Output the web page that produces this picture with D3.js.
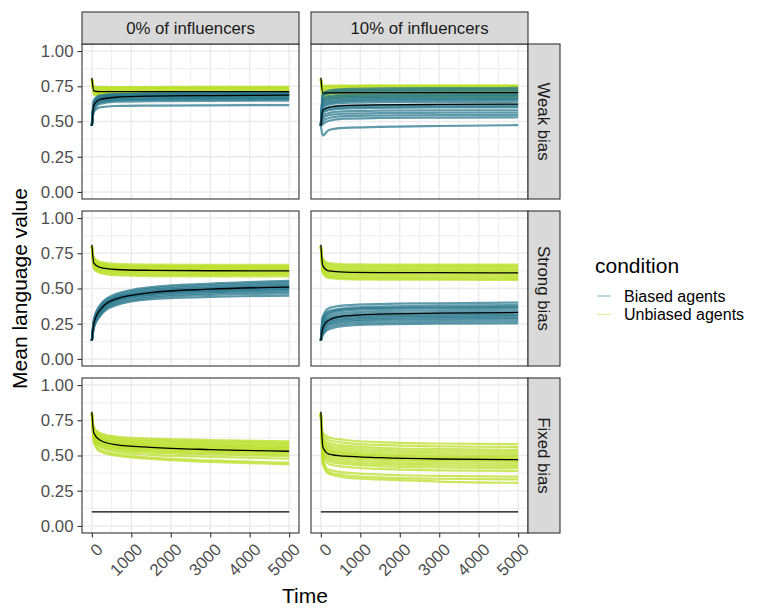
<!DOCTYPE html>
<html>
<head>
<meta charset="utf-8">
<script src="https://cdn.jsdelivr.net/npm/d3@7"></script>
<style>
  body { margin: 0; background: #fff; }
  text { font-family: "Liberation Sans", Arial, Helvetica, sans-serif; }
</style>
</head>
<body>
<script>
const timePoints = [0, 50, 200, 600, 1500, 3000, 5000];

const columnLabels = ["0% of influencers", "10% of influencers"];
const rowLabels = ["Weak bias", "Strong bias", "Fixed bias"];
const conditionLabels = ["Biased agents", "Unbiased agents"];

const xTicks = [0, 1000, 2000, 3000, 4000, 5000];
const xMinorTicks = [500, 1500, 2500, 3500, 4500];
const yTicks = [0, 0.25, 0.5, 0.75, 1];
const yMinorTicks = [0.125, 0.375, 0.625, 0.875];

// ---- Weak bias, 0% influencers
const weakNoneUnbiased = [
  [.80, .750, .745, .745, .745, .746, .746],
  [.80, .740, .736, .735, .736, .736, .737],
  [.80, .732, .728, .727, .728, .729, .729],
  [.80, .725, .721, .720, .720, .721, .721],
  [.80, .720, .715, .714, .714, .714, .715],
  [.80, .714, .708, .707, .707, .707, .707],
  [.80, .708, .701, .700, .700, .700, .701],
  [.80, .702, .695, .694, .694, .693, .693],
  [.80, .698, .689, .687, .687, .687, .687],
  [.80, .690, .682, .680, .680, .681, .680],
  [.80, .745, .741, .740, .740, .741, .741],
  [.80, .712, .703, .704, .704, .705, .704]
];
const weakNoneBiased = [
  [.47, .620, .660, .675, .680, .682, .683],
  [.47, .630, .670, .685, .690, .692, .693],
  [.47, .640, .680, .692, .697, .699, .700],
  [.47, .600, .645, .660, .665, .667, .668],
  [.47, .590, .635, .650, .655, .657, .658],
  [.47, .610, .655, .668, .673, .675, .676],
  [.47, .580, .625, .640, .645, .647, .648],
  [.47, .620, .662, .678, .684, .686, .688],
  [.47, .650, .685, .695, .700, .703, .705],
  [.47, .570, .600, .610, .613, .615, .616],
  [.47, .600, .640, .655, .660, .662, .663],
  [.47, .630, .672, .688, .692, .694, .695]
];
const weakNoneUnbiasedMean = [.81, .718, .712, .712, .712, .712, .712];
const weakNoneBiasedMean = [.47, .615, .655, .672, .680, .684, .687];

// ---- Weak bias, 10% influencers
const weakTenUnbiased = [
  [.80, .750, .755, .755, .756, .756, .757],
  [.80, .740, .745, .747, .748, .748, .748],
  [.80, .730, .735, .737, .738, .738, .738],
  [.80, .720, .726, .728, .729, .729, .730],
  [.80, .710, .716, .718, .719, .720, .720],
  [.80, .700, .705, .708, .709, .710, .710],
  [.80, .690, .695, .698, .700, .700, .700],
  [.80, .680, .685, .688, .690, .690, .690],
  [.80, .670, .676, .679, .680, .680, .680],
  [.80, .660, .668, .670, .671, .672, .672],
  [.80, .752, .750, .751, .752, .752, .752],
  [.80, .715, .720, .722, .723, .723, .723]
];
const weakTenBiased = [
  [.47, .700, .720, .730, .735, .737, .738],
  [.47, .690, .710, .720, .725, .727, .728],
  [.47, .680, .700, .710, .715, .717, .718],
  [.47, .660, .680, .690, .695, .697, .698],
  [.47, .650, .670, .681, .686, .688, .689],
  [.47, .640, .660, .672, .677, .679, .680],
  [.47, .620, .640, .652, .657, .659, .660],
  [.47, .600, .620, .632, .637, .639, .640],
  [.47, .580, .600, .612, .617, .619, .620],
  [.47, .560, .580, .592, .597, .600, .600],
  [.47, .540, .560, .572, .577, .579, .580],
  [.47, .520, .545, .555, .560, .562, .563],
  [.47, .500, .525, .538, .542, .545, .546],
  [.47, .480, .505, .520, .525, .528, .530],
  [.47, .400, .440, .455, .462, .468, .474],
  [.47, .610, .630, .645, .650, .652, .653],
  [.47, .570, .590, .600, .605, .607, .608],
  [.47, .630, .650, .662, .667, .669, .670]
];
const weakTenUnbiasedMean = [.81, .702, .703, .704, .705, .705, .705];
const weakTenBiasedMean = [.47, .580, .600, .612, .618, .621, .623];

// ---- Strong bias, 0% influencers
const strongNoneUnbiased = [
  [.80, .720, .690, .675, .670, .668, .668],
  [.80, .710, .680, .665, .660, .658, .658],
  [.80, .700, .670, .655, .650, .648, .648],
  [.80, .690, .660, .645, .640, .638, .638],
  [.80, .680, .650, .635, .630, .628, .628],
  [.80, .675, .645, .628, .623, .621, .620],
  [.80, .665, .635, .620, .615, .612, .612],
  [.80, .660, .628, .612, .606, .604, .604],
  [.80, .650, .618, .602, .597, .595, .594],
  [.80, .640, .610, .594, .588, .586, .585],
  [.80, .700, .675, .660, .655, .653, .652],
  [.80, .685, .655, .640, .635, .633, .632]
];
const strongNoneBiased = [
  [.13, .280, .380, .460, .510, .535, .555],
  [.13, .270, .370, .450, .500, .525, .545],
  [.13, .265, .360, .440, .490, .515, .535],
  [.13, .260, .355, .435, .480, .505, .525],
  [.13, .255, .350, .430, .475, .500, .515],
  [.13, .250, .345, .425, .470, .495, .510],
  [.13, .245, .340, .420, .465, .488, .503],
  [.13, .240, .335, .415, .460, .482, .495],
  [.13, .235, .330, .410, .455, .475, .488],
  [.13, .230, .320, .400, .445, .465, .477],
  [.13, .225, .310, .390, .435, .455, .465],
  [.13, .220, .300, .380, .425, .440, .450]
];
const strongNoneUnbiasedMean = [.81, .680, .650, .635, .629, .626, .625];
const strongNoneBiasedMean = [.13, .250, .345, .425, .470, .495, .510];

// ---- Strong bias, 10% influencers
const strongTenUnbiased = [
  [.80, .710, .680, .672, .670, .670, .670],
  [.80, .700, .670, .662, .660, .660, .660],
  [.80, .690, .660, .652, .650, .650, .650],
  [.80, .680, .650, .642, .640, .640, .640],
  [.80, .670, .640, .632, .630, .630, .630],
  [.80, .665, .632, .624, .622, .621, .621],
  [.80, .655, .622, .614, .612, .611, .611],
  [.80, .645, .612, .604, .602, .601, .601],
  [.80, .635, .602, .594, .592, .591, .590],
  [.80, .625, .592, .584, .581, .580, .580],
  [.80, .615, .582, .574, .571, .570, .569],
  [.80, .605, .575, .566, .563, .562, .561]
];
const strongTenBiased = [
  [.13, .300, .360, .380, .390, .395, .400],
  [.13, .280, .340, .360, .372, .378, .382],
  [.13, .260, .320, .343, .355, .360, .365],
  [.13, .250, .305, .328, .340, .345, .350],
  [.13, .240, .290, .313, .325, .330, .335],
  [.13, .230, .280, .302, .313, .318, .322],
  [.13, .220, .270, .292, .303, .308, .312],
  [.13, .210, .260, .282, .293, .298, .302],
  [.13, .200, .250, .272, .283, .288, .292],
  [.13, .190, .240, .262, .272, .277, .281],
  [.13, .180, .225, .248, .258, .263, .267],
  [.13, .170, .210, .235, .245, .250, .252],
  [.13, .290, .330, .352, .362, .366, .370]
];
const strongTenUnbiasedMean = [.81, .660, .625, .616, .613, .612, .611];
const strongTenBiasedMean = [.13, .220, .275, .305, .318, .325, .330];

// ---- Fixed bias, 0% influencers (biased agents sit at 0.1, only the mean shows)
const fixedNoneUnbiased = [
  [.80, .700, .660, .635, .620, .610, .600],
  [.80, .690, .650, .625, .610, .600, .590],
  [.80, .680, .640, .615, .600, .590, .580],
  [.80, .675, .632, .605, .590, .580, .570],
  [.80, .670, .625, .597, .580, .570, .560],
  [.80, .665, .618, .590, .572, .562, .552],
  [.80, .660, .610, .582, .564, .554, .544],
  [.80, .655, .603, .574, .556, .545, .535],
  [.80, .650, .596, .566, .548, .537, .527],
  [.80, .645, .588, .558, .539, .528, .517],
  [.80, .640, .580, .550, .530, .518, .507],
  [.80, .630, .570, .540, .520, .507, .495],
  [.80, .620, .560, .528, .505, .490, .477],
  [.80, .600, .540, .510, .485, .465, .450],
  [.80, .590, .530, .500, .475, .455, .437]
];
const fixedNoneUnbiasedMean = [.81, .660, .610, .577, .558, .542, .530];
const fixedNoneBiasedMean = [.10, .100, .100, .100, .100, .100, .100];

// ---- Fixed bias, 10% influencers
const fixedTenUnbiased = [
  [.80, .660, .630, .610, .595, .585, .580],
  [.80, .640, .610, .590, .575, .565, .560],
  [.80, .620, .590, .570, .555, .545, .540],
  [.80, .610, .575, .555, .540, .530, .525],
  [.80, .600, .560, .540, .525, .515, .510],
  [.80, .590, .545, .525, .510, .500, .495],
  [.80, .580, .535, .515, .500, .490, .485],
  [.80, .570, .525, .505, .490, .480, .475],
  [.80, .560, .515, .495, .480, .470, .465],
  [.80, .550, .505, .485, .470, .460, .455],
  [.80, .540, .490, .470, .455, .445, .440],
  [.80, .530, .475, .455, .440, .430, .425],
  [.80, .520, .460, .440, .425, .415, .410],
  [.80, .500, .440, .420, .405, .395, .390],
  [.80, .470, .400, .380, .365, .355, .350],
  [.80, .450, .380, .360, .345, .335, .330],
  [.80, .440, .370, .345, .330, .315, .306]
];
const fixedTenUnbiasedMean = [.81, .560, .510, .495, .485, .475, .470];
const fixedTenBiasedMean = [.10, .100, .100, .100, .100, .100, .100];

const panels = [
  { row: 0, col: 0, biased: weakNoneBiased, unbiased: weakNoneUnbiased, biasedMean: weakNoneBiasedMean, unbiasedMean: weakNoneUnbiasedMean },
  { row: 0, col: 1, biased: weakTenBiased, unbiased: weakTenUnbiased, biasedMean: weakTenBiasedMean, unbiasedMean: weakTenUnbiasedMean },
  { row: 1, col: 0, biased: strongNoneBiased, unbiased: strongNoneUnbiased, biasedMean: strongNoneBiasedMean, unbiasedMean: strongNoneUnbiasedMean },
  { row: 1, col: 1, biased: strongTenBiased, unbiased: strongTenUnbiased, biasedMean: strongTenBiasedMean, unbiasedMean: strongTenUnbiasedMean },
  { row: 2, col: 0, biased: [], unbiased: fixedNoneUnbiased, biasedMean: fixedNoneBiasedMean, unbiasedMean: fixedNoneUnbiasedMean },
  { row: 2, col: 1, biased: [], unbiased: fixedTenUnbiased, biasedMean: fixedTenBiasedMean, unbiasedMean: fixedTenUnbiasedMean }
];

const width = 765,
    height = 616;

const marginLeft = 82, marginTop = 44,
    panelW = 217, panelH = 155,
    gap = 12, stripSize = 32;

const colors = { biased: "#2A788E", unbiased: "#BBDF27" };
const runOpacity = 0.75;
const runWidth = 2.2;
const keyOpacity = 0.45;
const fontSize = 16.8;

const svg = d3.select("body").append("svg")
    .attr("width", width)
    .attr("height", height);

const xScale = d3.scaleLinear().domain([-250, 5250]).range([0, panelW]);
const yScale = d3.scaleLinear().domain([-0.05, 1.05]).range([panelH, 0]);

const line = d3.line()
    .x((d, i) => xScale(timePoints[i]))
    .y(d => yScale(d))
    .curve(d3.curveMonotoneX);

panels.forEach(function (p) {
    const px = marginLeft + p.col * (panelW + gap),
        py = marginTop + p.row * (panelH + gap);

    const g = svg.append("g")
        .attr("transform", `translate(${px},${py})`);

    g.append("rect")
        .attr("width", panelW)
        .attr("height", panelH)
        .attr("fill", "#fff");

    // minor grid first, then major
    g.selectAll("line.minor-x").data(xMinorTicks).enter().append("line")
        .attr("x1", d => xScale(d)).attr("x2", d => xScale(d))
        .attr("y1", 0).attr("y2", panelH)
        .attr("stroke", "#ebebeb").attr("stroke-width", 0.8);
    g.selectAll("line.minor-y").data(yMinorTicks).enter().append("line")
        .attr("y1", d => yScale(d)).attr("y2", d => yScale(d))
        .attr("x1", 0).attr("x2", panelW)
        .attr("stroke", "#ebebeb").attr("stroke-width", 0.8);
    g.selectAll("line.major-x").data(xTicks).enter().append("line")
        .attr("x1", d => xScale(d)).attr("x2", d => xScale(d))
        .attr("y1", 0).attr("y2", panelH)
        .attr("stroke", "#ebebeb").attr("stroke-width", 1.5);
    g.selectAll("line.major-y").data(yTicks).enter().append("line")
        .attr("y1", d => yScale(d)).attr("y2", d => yScale(d))
        .attr("x1", 0).attr("x2", panelW)
        .attr("stroke", "#ebebeb").attr("stroke-width", 1.5);

    g.selectAll("path.unbiased").data(p.unbiased).enter().append("path")
        .attr("d", line)
        .attr("fill", "none")
        .attr("stroke", colors.unbiased)
        .attr("stroke-opacity", runOpacity)
        .attr("stroke-width", runWidth);

    g.selectAll("path.biased").data(p.biased).enter().append("path")
        .attr("d", line)
        .attr("fill", "none")
        .attr("stroke", colors.biased)
        .attr("stroke-opacity", runOpacity)
        .attr("stroke-width", runWidth);

    g.selectAll("path.mean").data([p.biasedMean, p.unbiasedMean]).enter().append("path")
        .attr("d", line)
        .attr("fill", "none")
        .attr("stroke", "#000")
        .attr("stroke-width", 1.3);

    g.append("rect")
        .attr("width", panelW)
        .attr("height", panelH)
        .attr("fill", "none")
        .attr("stroke", "#333")
        .attr("stroke-width", 1.1);

    if (p.col === 0) {
        g.append("g")
            .call(d3.axisLeft(yScale).tickValues(yTicks).tickFormat(d3.format(".2f"))
                .tickSize(4.5).tickPadding(4))
            .call(a => a.select(".domain").remove())
            .call(a => a.selectAll(".tick line").attr("stroke", "#333").attr("stroke-width", 1.1))
            .call(a => a.selectAll(".tick text")
                .attr("fill", "#4d4d4d")
                .style("font-size", fontSize + "px")
                .style("font-family", "Liberation Sans, Arial, sans-serif"));
    }

    if (p.row === 2) {
        g.append("g")
            .attr("transform", `translate(0,${panelH})`)
            .call(d3.axisBottom(xScale).tickValues(xTicks).tickFormat(d3.format("d"))
                .tickSize(4.5))
            .call(a => a.select(".domain").remove())
            .call(a => a.selectAll(".tick line").attr("stroke", "#333").attr("stroke-width", 1.1))
            .call(a => a.selectAll(".tick text")
                .attr("fill", "#4d4d4d")
                .attr("x", 0).attr("y", 0).attr("dy", "0.72em")
                .attr("text-anchor", "end")
                .attr("transform", "translate(3,9) rotate(-45)")
                .style("font-size", fontSize + "px")
                .style("font-family", "Liberation Sans, Arial, sans-serif"));
    }
});

// column strips on top
columnLabels.forEach(function (label, c) {
    const sx = marginLeft + c * (panelW + gap);
    svg.append("rect")
        .attr("x", sx).attr("y", marginTop - stripSize)
        .attr("width", panelW).attr("height", stripSize)
        .attr("fill", "#d9d9d9").attr("stroke", "#333").attr("stroke-width", 1.1);
    svg.append("text")
        .attr("x", sx + panelW / 2).attr("y", marginTop - stripSize / 2)
        .attr("dy", "0.36em")
        .attr("text-anchor", "middle")
        .attr("fill", "#1a1a1a")
        .style("font-size", fontSize + "px")
        .text(label);
});

// row strips on the right
const stripX = marginLeft + 2 * panelW + gap;
rowLabels.forEach(function (label, r) {
    const sy = marginTop + r * (panelH + gap);
    svg.append("rect")
        .attr("x", stripX).attr("y", sy)
        .attr("width", stripSize).attr("height", panelH)
        .attr("fill", "#d9d9d9").attr("stroke", "#333").attr("stroke-width", 1.1);
    svg.append("text")
        .attr("transform", `translate(${stripX + stripSize / 2},${sy + panelH / 2}) rotate(90)`)
        .attr("dy", "0.36em")
        .attr("text-anchor", "middle")
        .attr("fill", "#1a1a1a")
        .style("font-size", fontSize + "px")
        .text(label);
});

// axis titles
const plotBottom = marginTop + 3 * panelH + 2 * gap;
svg.append("text")
    .attr("x", marginLeft + (2 * panelW + gap) / 2)
    .attr("y", 603)
    .attr("text-anchor", "middle")
    .style("font-size", "21px")
    .text("Time");

svg.append("text")
    .attr("transform", `translate(26.5,${(marginTop + plotBottom) / 2}) rotate(-90)`)
    .attr("text-anchor", "middle")
    .style("font-size", "21px")
    .text("Mean language value");

// legend
const legend = svg.append("g").attr("transform", "translate(595,0)");
legend.append("text")
    .attr("x", 0).attr("y", 273)
    .style("font-size", "21px")
    .text("condition");

const keyColors = [colors.biased, colors.unbiased];
const keyY = d3.scalePoint().domain(conditionLabels).range([296, 314.5]);
conditionLabels.forEach(function (label, i) {
    legend.append("line")
        .attr("x1", 2).attr("x2", 16)
        .attr("y1", keyY(label)).attr("y2", keyY(label))
        .attr("stroke", keyColors[i])
        .attr("stroke-opacity", keyOpacity)
        .attr("stroke-width", 1.3);
    legend.append("text")
        .attr("x", 29).attr("y", keyY(label))
        .attr("dy", "0.36em")
        .style("font-size", "16px")
        .text(label);
});
</script>
</body>
</html>
